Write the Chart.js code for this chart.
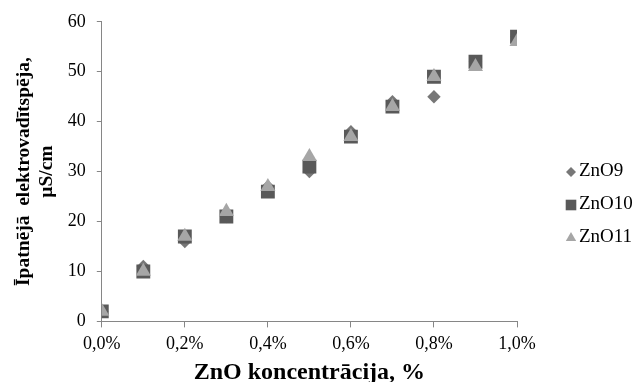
<!DOCTYPE html>
<html>
<head>
<meta charset="utf-8">
<script src="https://cdn.jsdelivr.net/npm/chart.js@4.4.1/dist/chart.umd.min.js"></script>
<style>
body{margin:0;background:#fff;}
canvas{display:block;}
</style>
</head>
<body>
<canvas id="chart" width="638" height="382"></canvas>
<script>
/* DATA */

const concentration = [0, 0.1, 0.2, 0.3, 0.4, 0.5, 0.6, 0.7, 0.8, 0.9, 1.0];

const zno9  = [2, 11, 16, 21, 27, 30, 38, 44, 45, 52, 57];
const zno10 = [2, 10, 17, 21, 26, 31, 37, 43, 49, 52, 57];
const zno11 = [2, 10, 17, 22, 27, 33, 37, 43, 49, 51, 56];

const seriesNames = ["ZnO9", "ZnO10", "ZnO11"];

const xTitle = "ZnO koncentrācija, %";
const yTitle = ["Īpatnējā  elektrovadītspēja,", "µS/cm"];

const font = "'Liberation Serif', 'Times New Roman', serif";

function pts(values){
return concentration.map((c,i)=>({x:c,y:values[i]}));
}


/* LEGEND (drawn beside the plot, like the original) */

const legendMarks = [
{style:"rectRot",radius:5},
{style:"rect",radius:7.5},
{style:"triangle",radius:6}
];

const sideLegend = {
id:"sideLegend",
afterDraw(chart){
const c = chart.ctx;
c.save();
c.font = "19px "+font;
c.textBaseline = "middle";
c.textAlign = "left";
chart.data.datasets.forEach((ds,i)=>{
const y = 171 + i*33;
c.fillStyle = ds.backgroundColor;
c.strokeStyle = ds.backgroundColor;
Chart.helpers.drawPoint(c,{pointStyle:legendMarks[i].style,radius:legendMarks[i].radius,rotation:0,borderWidth:0},571,y+1);
c.fillStyle = "#000";
c.fillText(ds.label,579,y);
});
c.restore();
}
};


/* CHART */

const ctx = document.getElementById("chart");

new Chart(ctx,{
type:"scatter",
data:{
datasets:[
{
label:seriesNames[0],
data:pts(zno9),
order:2,
pointStyle:"rectRot",
pointRadius:6.7,
backgroundColor:"#777777",
borderColor:"#777777",
borderWidth:0
},
{
label:seriesNames[1],
data:pts(zno10),
order:1,
pointStyle:"rect",
pointRadius:9.8,
backgroundColor:"#595959",
borderColor:"#595959",
borderWidth:0
},
{
label:seriesNames[2],
data:pts(zno11),
order:0,
pointStyle:"triangle",
pointRadius:8.7,
backgroundColor:"#a6a6a6",
borderColor:"#a6a6a6",
borderWidth:0
}
]
},
options:{
responsive:false,
animation:false,
layout:{padding:{top:19,left:8,right:121,bottom:-3}},
plugins:{
legend:{display:false},
tooltip:{enabled:false}
},
scales:{
x:{
type:"linear",
min:0,
max:1,
border:{color:"#868686",width:1},
grid:{display:true,drawOnChartArea:false,drawTicks:true,tickLength:6,color:"#868686"},
ticks:{
stepSize:0.2,
color:"#000",
padding:6,
font:{family:font,size:18},
callback:v=>v.toFixed(1).replace(".",",")+"%"
},
title:{
display:true,
text:xTitle,
color:"#000",
padding:{top:0,bottom:0},
font:{family:font,size:24,weight:"bold",lineHeight:1}
}
},
y:{
min:0,
max:60,
border:{color:"#868686",width:1},
grid:{display:true,drawOnChartArea:false,drawTicks:true,tickLength:5,color:"#868686"},
ticks:{
stepSize:10,
color:"#000",
padding:11,
font:{family:font,size:18}
},
title:{
display:true,
text:yTitle,
color:"#000",
padding:{top:4,bottom:-2},
font:{family:font,size:19.5,weight:"bold"}
}
}
}
},
plugins:[sideLegend]
});
</script>
</body>
</html>
